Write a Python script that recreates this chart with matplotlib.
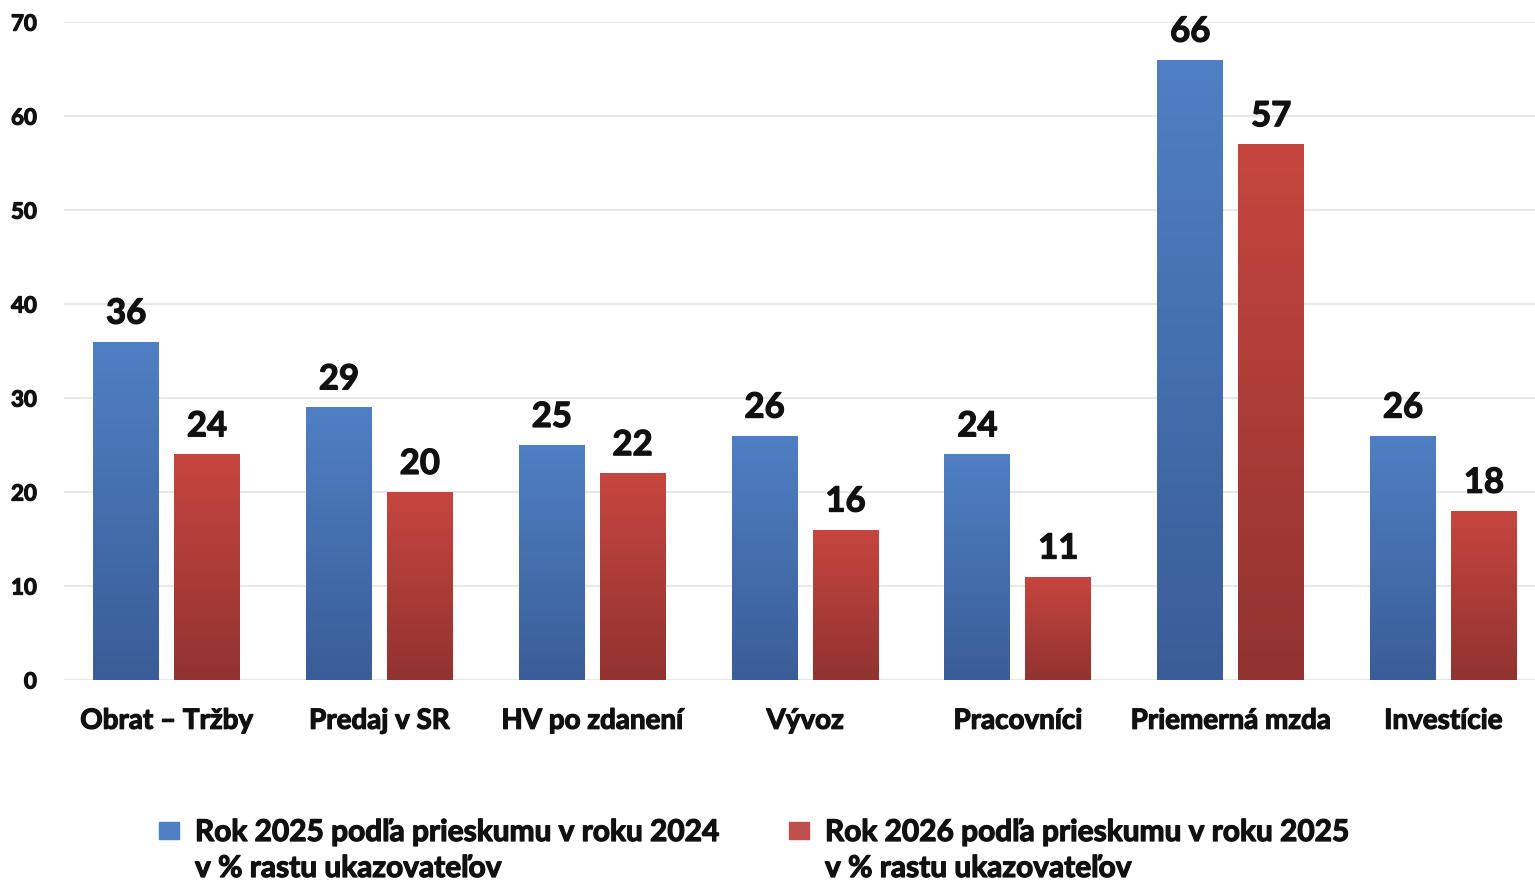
import numpy as np
import matplotlib.pyplot as plt
import matplotlib.patheffects as pe
from matplotlib.colors import LinearSegmentedColormap
from matplotlib.patches import Rectangle

kategorie = ["Obrat – Tržby", "Predaj v SR", "HV po zdanení", "Vývoz",
             "Pracovníci", "Priemerná mzda", "Investície"]
rok_2025 = [36, 29, 25, 26, 24, 66, 26]
rok_2026 = [24, 20, 22, 16, 11, 57, 18]
legenda = [("Rok 2025 podľa prieskumu v roku 2024", "v % rastu ukazovateľov"),
           ("Rok 2026 podľa prieskumu v roku 2025", "v % rastu ukazovateľov")]
y_ticks = [0, 10, 20, 30, 40, 50, 60, 70]

plt.rcParams['font.family'] = ['Lato', 'DejaVu Sans']
plt.rcParams['font.weight'] = 'bold'

# trochu hrubsie pismo
hrube = [pe.withStroke(linewidth=0.9, foreground="#111111")]

modra = LinearSegmentedColormap.from_list("modra", ["#3a5d97", "#4f80c3"])
cervena = LinearSegmentedColormap.from_list("cervena", ["#913330", "#c6463f"])

fig = plt.figure(figsize=(15.35, 8.84), dpi=100)
ax = fig.add_axes([0.042, 0.2308, 0.958, 0.7442])

x = np.arange(len(kategorie))
sirka = 0.31
posun = 0.19

def gradient_bars(pozicie, hodnoty, cmap):
    bars = ax.bar(pozicie, hodnoty, width=sirka, color="none", zorder=2)
    grad = np.linspace(0, 1, 256).reshape(-1, 1)
    for b in bars:
        x0, y0 = b.get_x(), b.get_y()
        im = ax.imshow(grad, extent=[x0, x0 + b.get_width(), y0, y0 + b.get_height()],
                       origin="lower", aspect="auto", cmap=cmap, zorder=2)
        im.set_clip_path(b)
        ax.annotate(f"{b.get_height():.0f}", (x0 + b.get_width() / 2, b.get_height()),
                    xytext=(0, 13), textcoords="offset points", ha="center", va="baseline",
                    fontsize=25, fontweight="bold", color="#111111", path_effects=hrube)
    return bars

gradient_bars(x - posun, rok_2025, modra)
gradient_bars(x + posun, rok_2026, cervena)

ax.set_xlim(-0.48, 6.43)
ax.set_ylim(0, 70)
ax.set_yticks(y_ticks)
ax.set_xticks(x)
ax.set_xticklabels(kategorie, fontsize=20, fontweight="bold", color="#111111")
ax.tick_params(axis="x", length=0, pad=20)
ax.tick_params(axis="y", length=0, pad=20, labelsize=16, labelcolor="#111111")
for t in ax.get_xticklabels() + ax.get_yticklabels():
    t.set_path_effects(hrube)
ax.yaxis.grid(True, color="#e8e8e8", linewidth=1.5, zorder=0)
ax.set_axisbelow(True)
for s in ax.spines.values():
    s.set_visible(False)

# legenda pod grafom
farby = ["#4f80c3", "#c0504d"]
x_stvorec = [159, 789]
for (r1, r2), farba, xs in zip(legenda, farby, x_stvorec):
    fig.patches.append(Rectangle((xs / 1535, 1 - 839 / 884), 20 / 1535, 17 / 884,
                                 transform=fig.transFigure, color=farba))
    fig.text((xs + 36) / 1535, 1 - 841 / 884, r1, fontsize=21.5, fontweight="bold",
             color="#111111", va="baseline", path_effects=hrube)
    fig.text((xs + 36) / 1535, 1 - 877 / 884, r2, fontsize=21.5, fontweight="bold",
             color="#111111", va="baseline", path_effects=hrube)

fig.savefig("out.png", dpi=100)
